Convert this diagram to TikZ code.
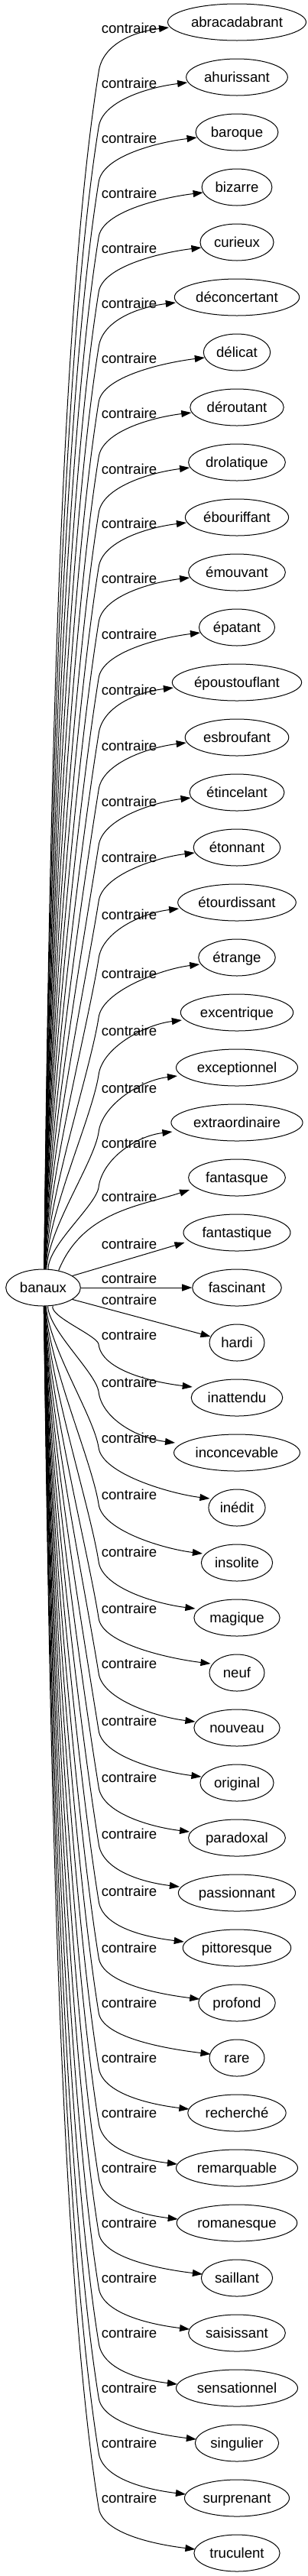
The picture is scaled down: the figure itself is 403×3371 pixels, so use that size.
\documentclass[tikz,border=0pt]{standalone}
\usepackage{fontspec}
\setmainfont{Liberation Sans}
\usetikzlibrary{arrows.meta,calc,shapes.geometric}
\begin{document}
\begin{tikzpicture}[x=1pt,y=-1pt,
  every node/.style={font=\fontsize{18.6}{22}\selectfont},
  leaf/.style={draw, ellipse, line width=1pt, inner xsep=4pt, inner ysep=0pt,
    minimum width=72pt, minimum height=48pt, text height=16pt, text depth=3pt},
  lab/.style={inner sep=0pt, text height=16pt, text depth=3pt},
  conn/.style={line width=1pt, -{Triangle[length=13pt,width=9pt]}}]
\useasboundingbox (0,0) rectangle (403,3371);
\node[leaf] (R) at (56.5,1685) {banaux};
\foreach \w [count=\i from 0] in {abracadabrant,ahurissant,baroque,bizarre,curieux,déconcertant,délicat,déroutant,drolatique,ébouriffant,émouvant,épatant,époustouflant,esbroufant,étincelant,étonnant,étourdissant,étrange,excentrique,exceptionnel,extraordinaire,fantasque,fantastique,fascinant,hardi,inattendu,inconcevable,inédit,insolite,magique,neuf,nouveau,original,paradoxal,passionnant,pittoresque,profond,rare,recherché,remarquable,romanesque,saillant,saisissant,sensationnel,singulier,surprenant,truculent}
  \node[leaf] (c\i) at (310,{29+72*\i}) {\w};
\foreach \i/\L in {0/37,1/109,2/181,3/253,4/325,5/397,6/469,7/541,8/614,9/685,10/757,11/830,12/903,13/976,14/1049,15/1122,16/1197,17/1274,18/1349,19/1424,20/1496,21/1566,22/1628,23/1673,24/1701,25/1747,26/1809,27/1882,28/1956,29/2031,30/2105,31/2177,32/2252,33/2326,34/2400,35/2475,36/2549,37/2621,38/2693,39/2765,40/2837,41/2909,42/2981,43/3053,44/3125,45/3197,46/3269}
  \node[lab] (l\i) at (169,\L) {contraire};
% upper edges
\foreach \i/\L/\dT in {0/37/7,1/109/7,2/181/7,3/253/7,4/325/7,5/397/7,6/469/7,7/541/7,8/614/7,9/685/7,10/757/7,11/830/7,12/903/7,13/976/7,14/1049/7,15/1122/7,16/1197/8,17/1274/9,18/1349/10,19/1424/11,20/1496/12}{
  \pgfmathsetmacro{\ky}{\L+58}
  \pgfmathsetmacro{\dy}{1662-\ky}
  \pgfmathtruncatemacro{\ang}{88-1400/\dy}
  \pgfmathsetmacro{\ca}{1662-0.3*\dy}
  \pgfmathsetmacro{\h}{0.22*\dy}
  \pgfmathsetmacro{\cbx}{129-0.16*\h}
  \pgfmathsetmacro{\cby}{\ky+\h}
  \draw[conn] (R.\ang) .. controls (63,\ca) and (\cbx,\cby) .. (129,\ky)
    .. controls (133,\ky-35) and ($(c\i.west)+(-48,\dT+6)$) .. ($(c\i.west)+(2,\dT)$);
}
% near edges
\draw[conn] (R.48) .. controls (108,1585) and ($(c21.west)+(-62,37)$) .. ($(c21.west)+(2,16)$);
\draw[conn] (R.22) -- ($(c22.west)+(2,13)$);
\draw[conn] (R) -- (c23);
\draw[conn] (R.338) -- ($(c24.west)+(2,-8)$);
% lower edges
\foreach \i/\L/\dT in {25/1747/-14,26/1809/-13,27/1882/-12,28/1956/-12,29/2031/-12,30/2105/-12,31/2177/-8,32/2252/-8,33/2326/-8,34/2400/-8,35/2475/-8,36/2549/-5,37/2621/-5,38/2693/-5,39/2765/-5,40/2837/-5,41/2909/-5,42/2981/-5,43/3053/-5,44/3125/-5,45/3197/-5,46/3269/-5}{
  \pgfmathsetmacro{\ky}{\L+12}
  \pgfmathsetmacro{\dy}{\ky-1707}
  \pgfmathtruncatemacro{\ang}{272+1400/\dy}
  \pgfmathsetmacro{\ca}{1707+0.3*\dy}
  \pgfmathsetmacro{\h}{0.22*\dy}
  \pgfmathsetmacro{\cbx}{129-0.16*\h}
  \pgfmathsetmacro{\cby}{\ky-\h}
  \draw[conn] (R.\ang) .. controls (64,\ca) and (\cbx,\cby) .. (129,\ky)
    .. controls (133,\ky+35) and ($(c\i.west)+(-48,\dT-6)$) .. ($(c\i.west)+(2,\dT)$);
}
\end{tikzpicture}
\end{document}
